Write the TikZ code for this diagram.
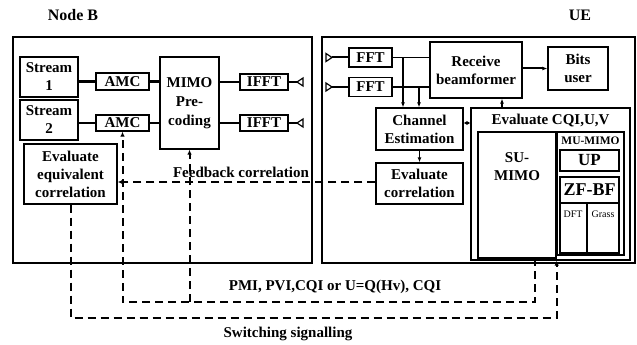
\documentclass[tikz,border=0pt]{standalone}
\usepackage{fontspec}
\setmainfont{Liberation Serif}
\usetikzlibrary{arrows.meta}
\begin{document}
\begin{tikzpicture}[x=1pt,y=-1pt,
 box/.style={draw, line width=1.3pt, inner sep=0pt, align=center, font=\bfseries\fontsize{15}{18}\selectfont},
 lbl/.style={inner sep=0pt, align=center, font=\bfseries\fontsize{15}{18}\selectfont},
 frame/.style={draw, line width=1.6pt, inner sep=0pt},
 bus/.style={line width=2.5pt},
 sig/.style={line width=1.2pt},
 arr/.style={line width=1.2pt, -{Latex[length=5pt,width=4pt]}},
 dsh/.style={line width=2pt, dash pattern=on 8pt off 5pt},
 dar/.style={dsh, -{Latex[length=5pt,width=4.5pt]}},
 ant/.style={line width=1.2pt, fill=white},
]
\useasboundingbox (0,0) rectangle (637,345);
% titles
\node[lbl, font=\bfseries\fontsize{16}{18}\selectfont] (tb) at (73,15) {Node B};
\node[lbl, font=\bfseries\fontsize{16}{18}\selectfont] (tu) at (580,15) {UE};
% outer frames
\node[frame, minimum width=299, minimum height=226] (nb) at (162.5,150) {};
\node[frame, minimum width=313, minimum height=226] (ue) at (478.5,150) {};
% Node B blocks
\node[box, line width=2pt, minimum width=58, minimum height=40] (s1) at (49,77) {Stream\\1};
\node[box, line width=2pt, minimum width=58, minimum height=40] (s2) at (49,120) {Stream\\2};
\node[box, minimum width=53, minimum height=17] (a1) at (122.5,81.5) {AMC};
\node[box, minimum width=53, minimum height=16] (a2) at (122.5,123) {AMC};
\node[box, minimum width=59, minimum height=92, font=\bfseries\fontsize{15}{19}\selectfont] (mimo) at (189.5,103) {MIMO\\Pre-\\coding};
\node[box, minimum width=48, minimum height=16] (i1) at (264,82) {IFFT};
\node[box, minimum width=48, minimum height=16] (i2) at (264,123) {IFFT};
\node[box, minimum width=93, minimum height=60] (eq) at (70.5,174) {Evaluate\\equivalent\\correlation};
\coordinate (na1) at (297,82);
\coordinate (na2) at (297,123);
% Node B connectors
\draw[bus] (s1.east |- a1) -- (a1.west);
\draw[bus] (s2.east |- a2) -- (a2.west);
\draw[bus] (a1.east) -- (a1.east -| mimo.west);
\draw[bus] (a2.east) -- (a2.east -| mimo.west);
\draw[bus] (i1.west -| mimo.east) -- (i1.west);
\draw[sig] (i2.west -| mimo.east) -- (i2.west);
\draw[bus] (i1.east) -- (na1);
\draw[bus] (i2.east) -- (na2);
\draw[ant] (na1) -- ++(6,-4) -- ++(0,8) -- cycle;
\draw[ant] (na2) -- ++(6,-4) -- ++(0,8) -- cycle;
% UE blocks
\node[box, minimum width=43, minimum height=19] (f1) at (370.5,57.5) {FFT};
\node[box, minimum width=43, minimum height=19] (f2) at (370.5,87) {FFT};
\node[box, minimum width=92, minimum height=56] (rb) at (476,70) {Receive\\beamformer};
\node[box, minimum width=60, minimum height=43] (bits) at (578,68.5) {Bits\\user};
\node[box, minimum width=87, minimum height=42] (ce) at (419.5,129) {Channel\\Estimation};
\node[box, minimum width=87, minimum height=41] (ec) at (419.5,183.5) {Evaluate\\correlation};
\node[box, minimum width=159, minimum height=152] (cqi) at (550.5,184) {};
\node[lbl] (cqit) at (550.5,121) {Evaluate CQI,U,V};
\node[box, minimum width=78, minimum height=126] (su) at (517,195) {};
\node[lbl] (sut) at (517,167) {SU-\\MIMO};
\node[box, line width=1.6pt, minimum width=67, minimum height=123] (mu) at (590.5,193.5) {};
\node[lbl, font=\bfseries\fontsize{11.5}{13}\selectfont] (mut) at (590.5,141) {MU-MIMO};
\node[box, line width=1.6pt, minimum width=59, minimum height=21, font=\bfseries\fontsize{17}{19}\selectfont] (up) at (589.5,160.5) {UP};
\node[box, line width=1.6pt, minimum width=59, minimum height=76] (zf) at (589.5,215) {};
\node[lbl, font=\bfseries\fontsize{18}{20}\selectfont] (zft) at (589.5,190) {ZF-BF};
\draw[line width=1.3pt] (zf.west |- 0,203) -- (zf.east |- 0,203);
\draw[line width=1.6pt] (587,203) -- (587,253);
\node[inner sep=0pt, font=\fontsize{10}{12}\selectfont] (dft) at (573,214) {DFT};
\node[inner sep=0pt, font=\fontsize{10}{12}\selectfont] (gr) at (603,214) {Grass};
\coordinate (ua1) at (332,57.5);
\coordinate (ua2) at (332,87);
\draw[ant] (ua1) -- ++(-6,-4) -- ++(0,8) -- cycle;
\draw[ant] (ua2) -- ++(-6,-4) -- ++(0,8) -- cycle;
% UE connectors
\draw[line width=2pt] (ua1) -- (f1.west);
\draw[line width=2pt] (ua2) -- (f2.west);
\draw[sig] (f1.east) -- (f1.east -| rb.west);
\draw[sig] (f2.east) -- (f2.east -| rb.west);
\coordinate (br1) at (403,57.5);
\coordinate (br2) at (419,87);
\draw[arr] (br1) -- (br1 |- ce.north);
\draw[arr] (br2) -- (br2 |- ce.north);
\draw[line width=2pt, -{Latex[length=5pt,width=4pt]}] (rb.east |- bits) -- (bits.west);
\coordinate (cq) at (502,108);
\draw[arr] (cq) -- (cq |- rb.south);
\draw[arr] (ce.south) -- (ec.north);
\draw[line width=1.5pt, {Latex[length=3.5pt,width=4pt]}-{Latex[length=3.5pt,width=4pt]}] (ce.east |- 0,123) -- (cqi.west |- 0,123);
% dashed feedback
\draw[dar] (ec.west |- 0,182) -- (eq.east |- 0,182);
\coordinate (pm) at (535,258);
\draw[dar] (pm) -- (535,302) -| (a2.south);
\draw[dar] (mimo.south |- 0,302) -- (mimo.south);
\draw[dar] (eq.south) -- ++(0,113) -| (su.east |- cqi.south);
% labels
\node[lbl] (fbl) at (241,172) {Feedback correlation};
\node[lbl] (pml) at (335,287) {PMI, PVI,CQI or U=Q(Hv), CQI};
\node[lbl] (swl) at (288,334) {Switching signalling};
\end{tikzpicture}
\end{document}
